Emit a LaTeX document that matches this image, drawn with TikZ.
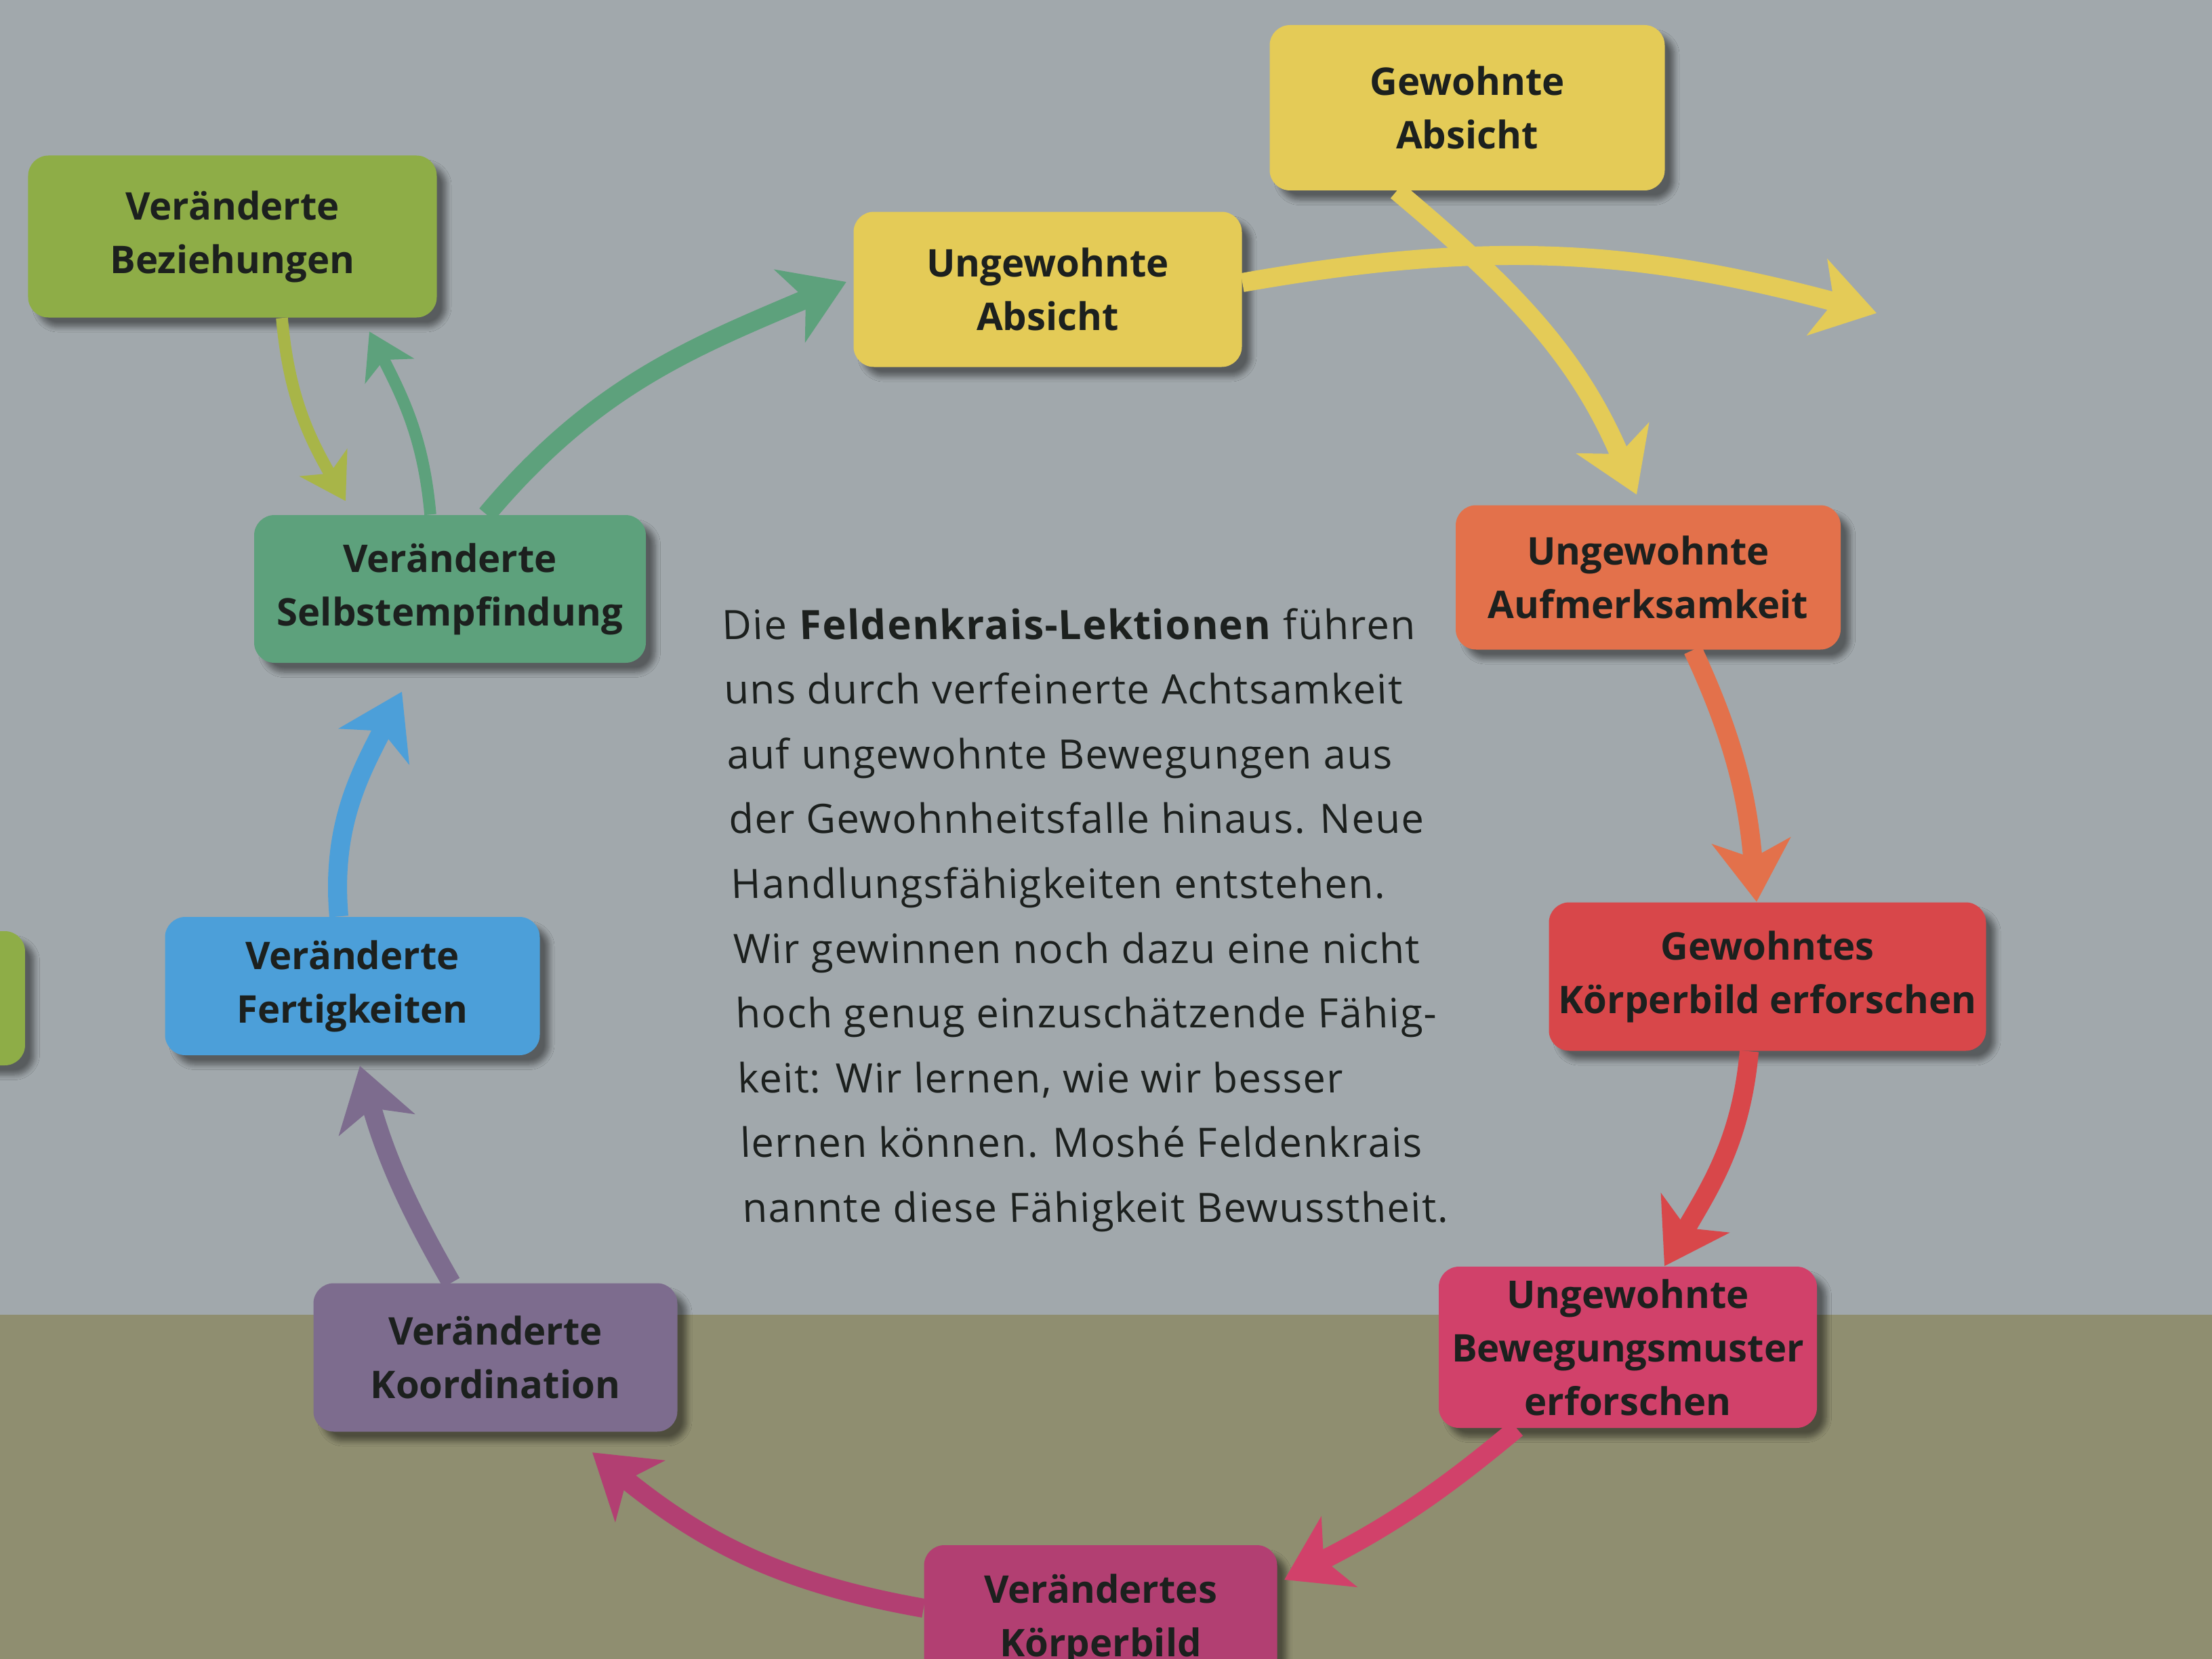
\documentclass[tikz,border=0pt]{standalone}
\usepackage{fontspec}
\setmainfont{Open Sans}
\newfontfamily\lektionfont[LetterSpace=2.5]{Open Sans}
\usetikzlibrary{arrows.meta,shadows.blur}
\definecolor{wallgray}{HTML}{A1A8AC}
\definecolor{floorolive}{HTML}{8F8E70}
\definecolor{absichtgelb}{HTML}{E4CB57}
\definecolor{beziehgruen}{HTML}{8EAD47}
\definecolor{pfeiloliv}{HTML}{A8B548}
\definecolor{selbstgruen}{HTML}{5DA17C}
\definecolor{aufmorange}{HTML}{E3714B}
\definecolor{bildrot}{HTML}{D8474A}
\definecolor{musterrot}{HTML}{D1416A}
\definecolor{koerpermagenta}{HTML}{B23F72}
\definecolor{koordlila}{HTML}{7D6C8E}
\definecolor{fertigblau}{HTML}{4C9FD9}
\definecolor{textgrau}{HTML}{1C201E}
\begin{document}
\begin{tikzpicture}[box/.style={rectangle,rounded corners=3mm,inner sep=0pt,align=center,
    font=\fontsize{16}{22.5}\selectfont\bfseries,text=textgrau,
    blur shadow={shadow xshift=1.4mm,shadow yshift=-1.4mm,shadow blur steps=8,shadow opacity=45}},
  flow/.style={line width=8pt,-{Stealth[length=9mm,width=11.5mm,inset=2.5mm]}},
  thinflow/.style={line width=5pt,-{Stealth[length=6.5mm,width=8mm,inset=1.8mm]}}]
%  \draw[help lines] (0,0) grid (32,-24);
    \clip (0,0) rectangle (32.64,-24.48);
    \fill[wallgray] (0,0) rectangle (32.64,-19.4);
    \fill[floorolive] (0,-19.4) rectangle (32.64,-24.48);
    \path (21.65,-1.59) node(gabs) [box,fill=absichtgelb,minimum width=5.83cm,minimum height=2.44cm] {Gewohnte\\Absicht}
    (15.46,-4.27) node(uabs) [box,fill=absichtgelb,minimum width=5.73cm,minimum height=2.29cm] {Ungewohnte\\Absicht}
    (3.43,-3.49) node(vbez) [box,fill=beziehgruen,minimum width=6.03cm,minimum height=2.39cm] {Veränderte\\Beziehungen}
    (6.64,-8.69) node(vsel) [box,fill=selbstgruen,minimum width=5.78cm,minimum height=2.18cm] {Veränderte\\Selbstempfindung}
    (24.32,-8.52) node(uauf) [box,fill=aufmorange,minimum width=5.68cm,minimum height=2.13cm] {Ungewohnte\\Aufmerksamkeit}
    (26.08,-14.41) node(gkoe) [box,fill=bildrot,minimum width=6.45cm,minimum height=2.19cm] {Gewohntes\\Körperbild erforschen}
    (24.02,-19.88) node(ubew) [box,fill=musterrot,minimum width=5.58cm,minimum height=2.38cm] {Ungewohnte\\Bewegungsmuster\\erforschen}
    (16.24,-23.90) node(vkoe) [box,fill=koerpermagenta,minimum width=5.21cm,minimum height=2.2cm] {Verändertes\\Körperbild}
    (7.31,-20.03) node(vkoo) [box,fill=koordlila,minimum width=5.37cm,minimum height=2.19cm] {Veränderte\\Koordination}
    (5.20,-14.55) node(vfer) [box,fill=fertigblau,minimum width=5.53cm,minimum height=2.04cm] {Veränderte\\Fertigkeiten}
    (-2.38,-14.73) node(links) [box,fill=beziehgruen,minimum width=5.5cm,minimum height=1.98cm] {};
    \coordinate (rechts) at (27.69,-4.62);
    \node(lektion) [anchor=north west,align=left,text=textgrau,xslant=-0.035,font=\lektionfont\fontsize{17}{27.2}\selectfont] at (10.52,-8.85)
    {Die \textbf{Feldenkrais-Lektionen} führen\\ uns durch verfeinerte Achtsamkeit\\ auf ungewohnte Bewegungen aus\\
     der Gewohnheitsfalle hinaus. Neue\\ Handlungsfähigkeiten entstehen.\\ Wir gewinnen noch dazu eine nicht\\
     hoch genug einzuschätzende Fähig-\\ keit: Wir lernen, wie wir besser\\ lernen können. Moshé Feldenkrais\\
     nannte diese Fähigkeit Bewusstheit.};
    \draw[flow,absichtgelb] ([xshift=-10.4mm]gabs.south) to[out=-40,in=113] ([xshift=-1.7mm,yshift=1.5mm]uauf.north);
    \draw[flow,absichtgelb] ([yshift=1mm]uabs.east) to[out=10,in=165] (rechts);
    \draw[flow,aufmorange] ([xshift=6.6mm]uauf.south) to[out=-65,in=95] ([xshift=-1.6mm]gkoe.north);
    \draw[flow,bildrot] ([xshift=-2.7mm]gkoe.south) to[out=-95,in=60] ([xshift=5.4mm]ubew.north);
    \draw[flow,musterrot] ([xshift=-16.4mm]ubew.south) to[out=-140,in=27] ([xshift=1mm,yshift=5.9mm]vkoe.east);
    \draw[flow,koerpermagenta] ([yshift=1.7mm]vkoe.west) to[out=170,in=-39] ([xshift=14.3mm,yshift=-3mm]vkoo.south);
    \draw[flow,koordlila] ([xshift=-6.5mm]vkoo.north) to[out=120,in=-74] ([xshift=1.1mm,yshift=-1.5mm]vfer.south);
    \draw[flow,fertigblau] ([xshift=-2mm]vfer.north) to[out=95,in=-117] ([xshift=-7.1mm,yshift=-4.2mm]vsel.south);
    \draw[flow,selbstgruen] ([xshift=5.4mm]vsel.north) to[out=50,in=-157] ([xshift=-1mm,yshift=1.1mm]uabs.west);
    \draw[thinflow,pfeiloliv] ([xshift=7.3mm]vbez.south) to[out=-85,in=120] ([xshift=-15.4mm,yshift=2mm]vsel.north);
    \draw[thinflow,selbstgruen] ([xshift=-2.9mm]vsel.north) to[out=95,in=-63] ([xshift=20.2mm,yshift=-2mm]vbez.south);
  \end{tikzpicture}
\end{document}
